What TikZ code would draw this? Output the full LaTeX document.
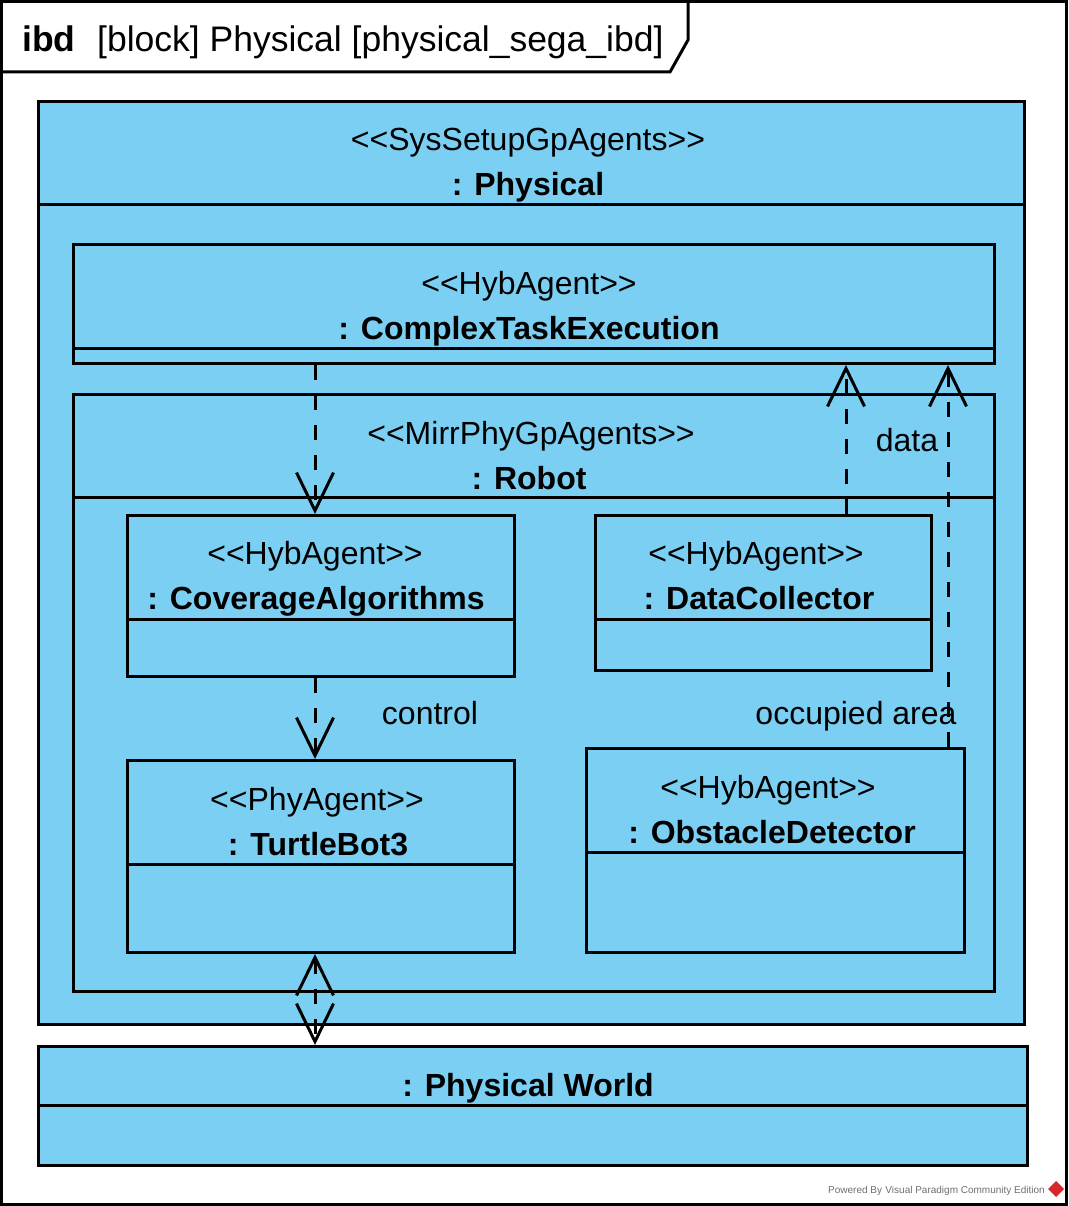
\documentclass[tikz,border=0pt]{standalone}
\usepackage{fontspec}
\newfontfamily\vpfont{Liberation Sans}
\usetikzlibrary{arrows.meta}
\definecolor{vpblue}{RGB}{122,207,243}
\definecolor{vpgray}{RGB}{110,110,110}
\definecolor{vpred}{RGB}{214,40,40}

\begin{document}
\begin{tikzpicture}[x=1pt, y=-1pt,
    blk/.style={draw, line width=3pt, fill=vpblue, inner sep=0pt, anchor=north west},
    ster/.style={font=\vpfont\fontsize{32}{38}\selectfont, anchor=base, inner sep=0pt},
    bname/.style={ster, font=\vpfont\fontsize{32}{38}\selectfont\bfseries},
    comp/.style={line width=3pt},
    dep/.style={line width=3pt, dash pattern=on 15pt off 15pt,
                -{Straight Barb[length=38pt,width=37pt]}},
    lbl/.style={ster},
]
    \useasboundingbox (0,0) rectangle (1068,1206);
    % diagram frame
    \draw[line width=3pt] (1.5,1.5) rectangle (1066.5,1204.5);
    \draw[line width=3pt] (1.5,72) -- (670,72) -- (688,40) -- (688,1.5);
    \node[anchor=base west, inner sep=0pt, font=\vpfont\fontsize{35.5}{40}\selectfont\bfseries] (kind) at (22,52) {ibd};
    \node[anchor=base west, inner sep=0pt, font=\vpfont\fontsize{35.5}{40}\selectfont] (title) at (97,52)
        {[block] Physical [physical\_sega\_ibd]};

    % blocks
    \node[blk, minimum width=986pt, minimum height=923pt] (phys) at (37,100) {};
    \draw[comp] (phys.north west) ++(0,105) -- ++(986,0);
    \node[ster] (physS) at (528,151) {<<SysSetupGpAgents>>};
    \node[bname] (physN) at (528,196) {: Physical};

    \node[blk, minimum width=921pt, minimum height=119pt] (cte) at (72,243) {};
    \draw[comp] (cte.north west) ++(0,105) -- ++(921,0);
    \node[ster] (cteS) at (529,294) {<<HybAgent>>};
    \node[bname] (cteN) at (529,339) {: ComplexTaskExecution};

    \node[blk, minimum width=921pt, minimum height=597pt] (robot) at (72,393) {};
    \draw[comp] (robot.north west) ++(0,104) -- ++(921,0);
    \node[ster] (robotS) at (531,444) {<<MirrPhyGpAgents>>};
    \node[bname] (robotN) at (529,489) {: Robot};

    \node[blk, minimum width=387pt, minimum height=161pt] (cov) at (126,514) {};
    \draw[comp] (cov.north west) ++(0,105) -- ++(387,0);
    \node[ster] (covS) at (315,564) {<<HybAgent>>};
    \node[bname] (covN) at (316,609) {: CoverageAlgorithms};

    \node[blk, minimum width=336pt, minimum height=155pt] (dc) at (594,514) {};
    \draw[comp] (dc.north west) ++(0,105) -- ++(336,0);
    \node[ster] (dcS) at (756,564) {<<HybAgent>>};
    \node[bname] (dcN) at (759,609) {: DataCollector};

    \node[blk, minimum width=387pt, minimum height=192pt] (tb) at (126,759) {};
    \draw[comp] (tb.north west) ++(0,105) -- ++(387,0);
    \node[ster] (tbS) at (317,810) {<<PhyAgent>>};
    \node[bname] (tbN) at (318,855) {: TurtleBot3};

    \node[blk, minimum width=378pt, minimum height=204pt] (od) at (585,747) {};
    \draw[comp] (od.north west) ++(0,105) -- ++(378,0);
    \node[ster] (odS) at (768,798) {<<HybAgent>>};
    \node[bname] (odN) at (772,843) {: ObstacleDetector};

    \node[blk, minimum width=989pt, minimum height=119pt] (pw) at (37,1045) {};
    \draw[comp] (pw.north west) ++(0,60) -- ++(989,0);
    \node[bname] (pwN) at (528,1096) {: Physical World};

    % connectors
    \coordinate (xl) at (315,0);
    \coordinate (xdc) at (846,0);
    \coordinate (xod) at (948,0);
    \draw[dep] (cte.south -| xl) -- (cov.north -| xl);
    \draw[dep] (cov.south -| xl) -- (tb.north -| xl);
    \draw[dep] (dc.north -| xdc) -- (cte.south -| xdc);
    \draw[dep] (od.north -| xod) -- (cte.south -| xod);
    \draw[dep, {Straight Barb[length=38pt,width=37pt]}-{Straight Barb[length=38pt,width=37pt]}]
        (tb.south -| xl) -- (pw.north -| xl);
    \node[lbl] (ctlL) at (430,724) {control};
    \node[lbl] (dataL) at (907,451) {data};
    \node[lbl] (occL) at (856,724) {occupied area};

    % footer
    \node[anchor=base east, inner sep=0pt, text=vpgray, font=\vpfont\fontsize{10}{12}\selectfont] (pwrd) at (1045,1193)
        {Powered By\,\,Visual Paradigm Community Edition};
    \fill[vpred] (1056,1181) -- (1064,1189) -- (1056,1197) -- (1048,1189) -- cycle;
\end{tikzpicture}
\end{document}
